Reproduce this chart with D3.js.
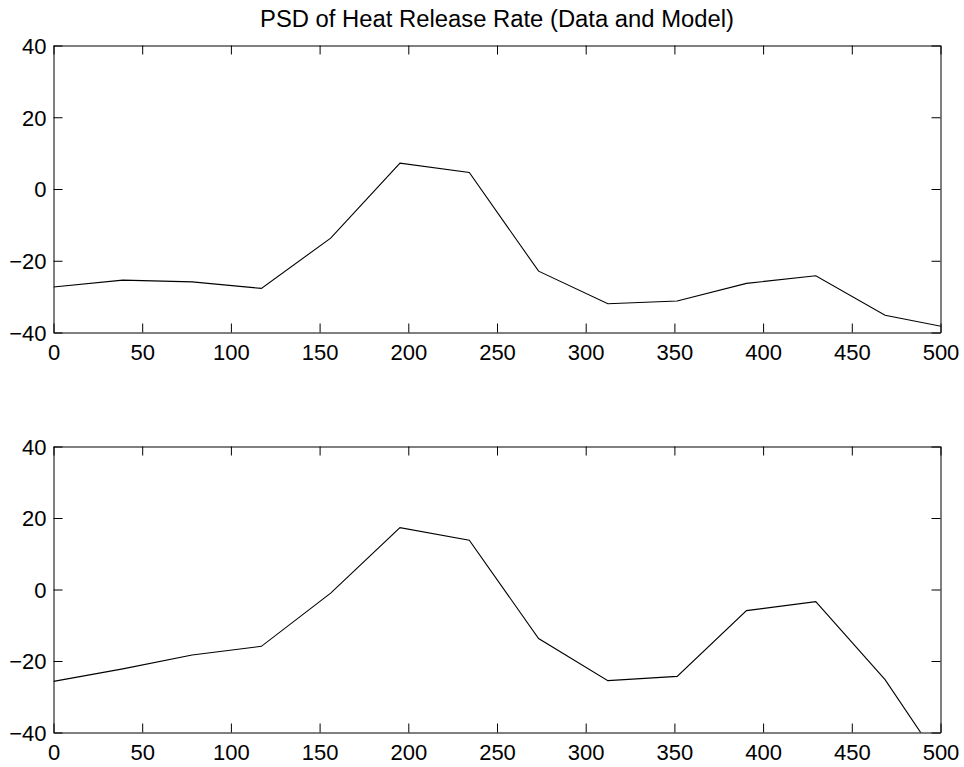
<!DOCTYPE html>
<html>
<head>
<meta charset="utf-8">
<script src="https://cdn.jsdelivr.net/npm/d3@7"></script>
<style>
  html, body { margin: 0; padding: 0; background: #fff; }
  svg { display: block; }
  text { font-family: "Liberation Sans", Arial, Helvetica, sans-serif; fill: #000; }
</style>
</head>
<body>
<svg id="chart" width="964" height="767"></svg>
<script>
// ---- data ----
const title = "PSD of Heat Release Rate (Data and Model)";
const freqs = [0, 39.06, 78.13, 117.19, 156.25, 195.31, 234.38, 273.44, 312.5, 351.56, 390.63, 429.69, 468.75, 507.81];
const dataPSD  = [-27.3, -25.4, -25.9, -27.7, -13.7, 7.2, 4.6, -22.9, -32.0, -31.2, -26.3, -24.2, -35.2, -39.0];
const modelPSD = [-25.7, -22.2, -18.3, -15.9, -1.0, 17.3, 13.8, -13.7, -25.5, -24.3, -5.9, -3.4, -25.2, -54.0];
const xTicks = [0, 50, 100, 150, 200, 250, 300, 350, 400, 450, 500];
const yTicks = [-40, -20, 0, 20, 40];
const xDomain = [0, 500];
const yDomain = [-40, 40];

// ---- layout ----
const svg = d3.select("#chart");
const left = 53.5, right = 940.5;
const panels = [
  { top: 45.5, bottom: 332.5, values: dataPSD },
  { top: 446.5, bottom: 732.5, values: modelPSD }
];
const fontSize = 22;
const tickLen = 9;

const x = d3.scaleLinear().domain(xDomain).range([left, right]);

svg.append("text")
  .attr("x", (left + right) / 2)
  .attr("y", 27)
  .attr("text-anchor", "middle")
  .style("font-size", "23px")
  .attr("textLength", 474)
  .attr("lengthAdjust", "spacingAndGlyphs")
  .text(title);

panels.forEach((p, i) => {
  const y = d3.scaleLinear().domain(yDomain).range([p.bottom, p.top]);
  const g = svg.append("g");

  const clipId = "clip" + i;
  svg.append("clipPath").attr("id", clipId)
    .append("rect")
    .attr("x", left).attr("y", p.top)
    .attr("width", right - left).attr("height", p.bottom - p.top);

  // data line
  const line = d3.line().x((d, j) => x(freqs[j])).y(d => y(d));
  g.append("path")
    .datum(p.values)
    .attr("clip-path", "url(#" + clipId + ")")
    .attr("fill", "none")
    .attr("stroke", "#000")
    .attr("stroke-width", 1.1)
    .attr("stroke-linejoin", "miter")
    .attr("d", line);

  // axes (inward ticks on all four sides)
  const axB = g.append("g").attr("transform", `translate(0,${p.bottom})`)
    .call(d3.axisBottom(x).tickValues(xTicks).tickSizeInner(-tickLen).tickSizeOuter(0).tickPadding(12).tickFormat(d3.format("d")));
  const axT = g.append("g").attr("transform", `translate(0,${p.top})`)
    .call(d3.axisTop(x).tickValues(xTicks).tickSizeInner(-tickLen).tickSizeOuter(0).tickFormat(""));
  const axL = g.append("g").attr("transform", `translate(${left},0)`)
    .call(d3.axisLeft(y).tickValues(yTicks).tickSizeInner(-tickLen).tickSizeOuter(0).tickPadding(7).tickFormat(d => d < 0 ? "\u2212" + Math.abs(d) : d));
  const axR = g.append("g").attr("transform", `translate(${right},0)`)
    .call(d3.axisRight(y).tickValues(yTicks).tickSizeInner(-tickLen).tickSizeOuter(0).tickFormat(""));

  [axB, axT, axL, axR].forEach(a => {
    a.selectAll("path.domain").attr("stroke", "#000").attr("stroke-width", 1);
    a.selectAll(".tick line").attr("stroke", "#000").attr("stroke-width", 1);
    a.selectAll("text").style("font-size", fontSize + "px")
      .attr("font-family", null).attr("fill", "#000");
  });
  axL.selectAll("text").attr("dy", "0.36em");
});
</script>
</body>
</html>
